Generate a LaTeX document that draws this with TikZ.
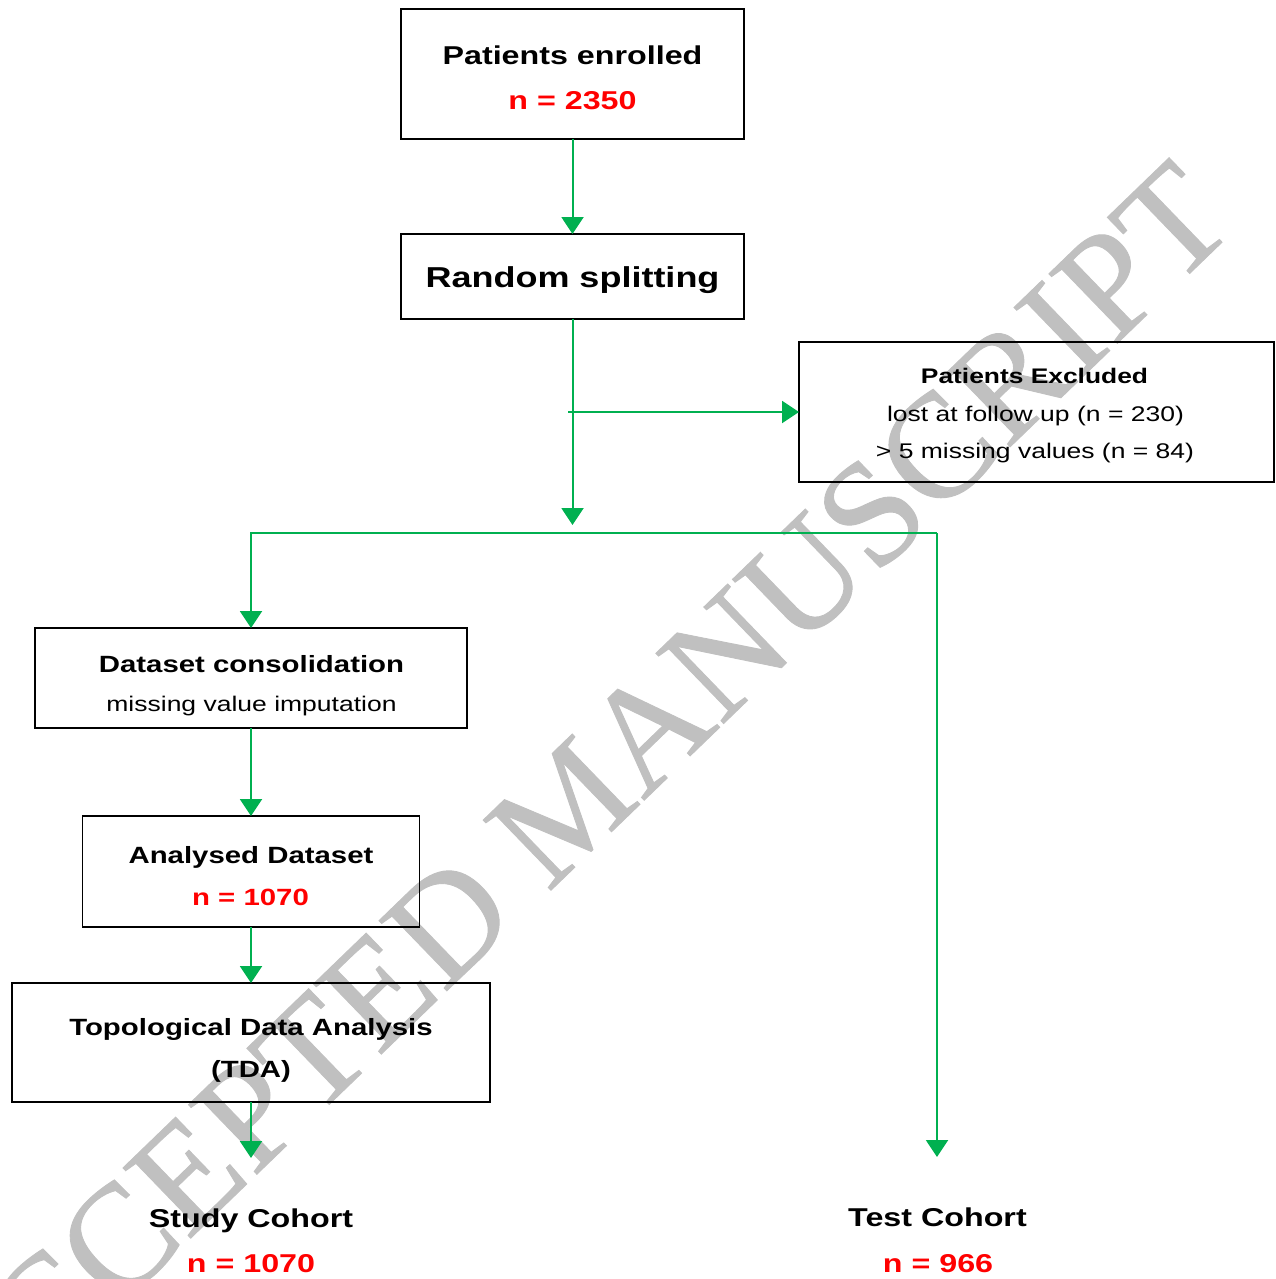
\documentclass[tikz,border=0pt]{standalone}
\usepackage{fontspec}
\setmainfont[FakeStretch=1.25]{Liberation Sans}
\newfontfamily\wmfont[FakeBold=0.6]{Liberation Serif}
\usetikzlibrary{arrows.meta}
\definecolor{lgreen}{HTML}{00B050}
\definecolor{nred}{HTML}{FF0000}
\definecolor{wmgray}{HTML}{C0C0C0}
\tikzset{
  box/.style={draw=black, line width=1.8pt, inner sep=0pt, outer sep=0pt},
  conn/.style={draw=lgreen, line width=2pt},
  arr/.style={conn, -{Triangle[width=22pt,length=17pt]}},
  txt/.style={anchor=base, inner sep=0pt, text=black},
  fsA/.style={font=\fontsize{25.8}{30}\selectfont\bfseries},
  fsR/.style={font=\fontsize{28.8}{34}\selectfont\bfseries},
  fsB/.style={font=\fontsize{23.5}{28}\selectfont\bfseries},
  fsC/.style={font=\fontsize{21.2}{25}\selectfont},
  fsCb/.style={font=\fontsize{21.1}{25}\selectfont\bfseries},
  red/.style={text=nred},
}
\begin{document}
\begin{tikzpicture}[x=1pt,y=-1pt]
\useasboundingbox (0,0) rectangle (1275,1279);
\clip (0,0) rectangle (1275,1279);
% watermark
\node[anchor=base, inner sep=0pt, rotate=44, text=wmgray, font=\wmfont\fontsize{149}{149}\selectfont] (wm) at (603,840) {ACCEPTED MANUSCRIPT};
% boxes
\node[box, minimum width=343pt, minimum height=130pt] (b1) at (572.5,74) {};
\node[box, minimum width=343pt, minimum height=85pt] (b2) at (572.5,276.5) {};
\node[box, minimum width=475pt, minimum height=140pt] (b3) at (1036.5,412) {};
\node[box, minimum width=432pt, minimum height=100pt] (b4) at (251,678) {};
\node[box, minimum width=337pt, minimum height=111pt] (b5) at (251,871.5) {};
\node[box, minimum width=478pt, minimum height=119pt] (b6) at (251,1042.5) {};
% texts
\node[txt, fsA] (t1a) at (572.5,65) {Patients enrolled};
\node[txt, fsA, red] (t1b) at (572.5,110) {n = 2350};
\node[txt, fsR] (t2) at (572.5,287) {Random splitting};
\node[txt, fsCb] (t3a) at (1034.5,383) {Patients Excluded};
\node[txt, fsC] (t3b) at (1035.5,421) {lost at follow up (n = 230)};
\node[txt, fsC] (t3c) at (1035,458) {> 5 missing values (n = 84)};
\node[txt, fsB] (t4a) at (251.5,672) {Dataset consolidation};
\node[txt, fsC] (t4b) at (251.5,711) {missing value imputation};
\node[txt, fsB] (t5a) at (251,863) {Analysed Dataset};
\node[txt, fsB, red] (t5b) at (250.5,905) {n = 1070};
\node[txt, fsB] (t6a) at (251,1035) {Topological Data Analysis};
\node[txt, fsB] (t6b) at (251,1077) {(TDA)};
\node[txt, fsA] (t7a) at (251,1227) {Study Cohort};
\node[txt, fsA, red] (t7b) at (251,1272) {n = 1070};
\node[txt, fsA] (t8a) at (937.5,1226) {Test Cohort};
\node[txt, fsA, red] (t8b) at (938,1272) {n = 966};
% junction coordinates
\coordinate (splitTip) at (572.5,525);
\coordinate (hStart) at (568,412);
\coordinate (hL) at (251,533);
\coordinate (hR) at (937,533);
\coordinate (testTip) at (937,1157);
\coordinate (studyTip) at (251,1158);
% connectors
\draw[arr] (b1.south) -- (b2.north);
\draw[arr] (b2.south) -- (splitTip);
\draw[arr] (hStart) -- (b3.west);
\draw[arr] (hR) -- (hL) -- (b4.north);
\draw[arr] (hR) -- (testTip);
\draw[arr] (b4.south) -- (b5.north);
\draw[arr] (b5.south) -- (b6.north);
\draw[arr] (b6.south) -- (studyTip);
\end{tikzpicture}
\end{document}
